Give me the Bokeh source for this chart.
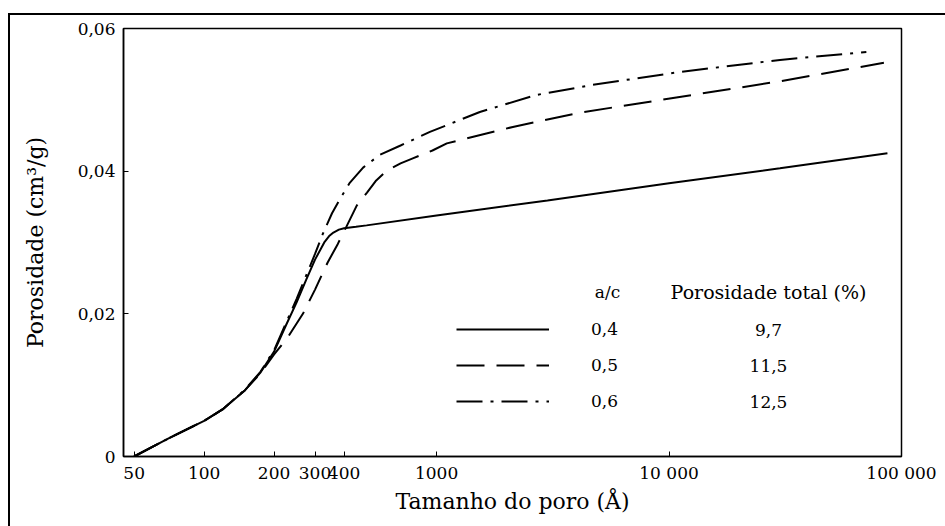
from bokeh.plotting import figure
from bokeh.models import (FixedTicker, Legend, LegendItem, Label, Range1d)
from bokeh.embed import file_html
from bokeh.resources import INLINE

# ---- data ----
pore_04 = [50, 70, 100, 120, 150, 175, 200, 225, 250, 275, 300, 330, 345, 360, 380, 400,
           450, 500, 1000, 3000, 10000, 30000, 87000]
por_04 = [0.0, 0.0025, 0.005, 0.0066, 0.0093, 0.0118, 0.0147, 0.0184, 0.0216, 0.0248,
          0.0276, 0.0301, 0.0309, 0.0314, 0.0318, 0.0320, 0.0322, 0.0324, 0.0338,
          0.0359, 0.0383, 0.0404, 0.0425]

pore_05 = [50, 70, 100, 120, 150, 175, 200, 230, 266, 300, 340, 376, 412, 454, 502, 550,
           612, 700, 790, 960, 1107, 2128, 4130, 11100, 30000, 84000]
por_05 = [0.0, 0.0025, 0.005, 0.0066, 0.0093, 0.0117, 0.0143, 0.0168, 0.020, 0.0234,
          0.0272, 0.0298, 0.0324, 0.0352, 0.0370, 0.0387, 0.0401, 0.0411, 0.0418,
          0.0429, 0.0439, 0.0462, 0.0482, 0.0504, 0.0526, 0.0552]

pore_06 = [50, 70, 100, 120, 150, 175, 200, 225, 250, 275, 300, 325, 355, 384, 424, 483,
           570, 700, 936, 1535, 2700, 4700, 11100, 30000, 70600]
por_06 = [0.0, 0.0025, 0.005, 0.0066, 0.0094, 0.0119, 0.0149, 0.0187, 0.0221, 0.0254,
          0.0284, 0.0313, 0.0341, 0.0361, 0.0384, 0.0405, 0.0423, 0.0436, 0.0455,
          0.0483, 0.0507, 0.0521, 0.0539, 0.0556, 0.0567]

ac_labels = ["0,4", "0,5", "0,6"]
total_porosity = ["9,7", "11,5", "12,5"]

x_ticks = [50, 100, 200, 300, 400, 1000, 10000, 100000]
x_tick_labels = ["50", "100", "200", "300", "400", "1000", "10 000", "100 000"]
y_ticks = [0.0, 0.02, 0.04, 0.06]
y_tick_labels = ["0", "0,02", "0,04", "0,06"]

SERIF = "DejaVu Serif"
FRAME_LEFT, FRAME_BOTTOM = 123, 456   # page pixels of the frame's bottom-left corner

p = figure(width=945, height=526, x_axis_type="log",
           x_range=Range1d(45, 100000), y_range=Range1d(0, 0.06),
           output_backend="svg", toolbar_location=None,
           min_border_left=FRAME_LEFT, min_border_right=44,
           min_border_top=28, min_border_bottom=526 - FRAME_BOTTOM)
p.grid.visible = False
p.outline_line_color = "black"
p.outline_line_width = 1.5
p.background_fill_color = "white"
p.border_fill_color = "white"
# outer frame of the figure (top and left edges visible)
p.stylesheets = [":host::after { content: ''; position: absolute; left: 8px; top: 13px; "
                 "right: -10px; bottom: -10px; border-top: 2.5px solid black; "
                 "border-left: 2.5px solid black; pointer-events: none; z-index: 10; }"]

r04 = p.line(pore_04, por_04, line_color="black", line_width=2)
r05 = p.line(pore_05, por_05, line_color="black", line_width=2, line_dash="28 12")
r06 = p.line(pore_06, por_06, line_color="black", line_width=2, line_dash="26 8 3 8")

for ax in (p.xaxis[0], p.yaxis[0]):
    ax.axis_line_color = "black"
    ax.axis_line_width = 1.5
    ax.major_tick_in = 5
    ax.major_tick_out = 0
    ax.minor_tick_in = 0
    ax.minor_tick_out = 0
    ax.major_tick_line_color = "black"
    ax.major_label_text_font = SERIF
    ax.major_label_text_font_size = "17px"
    ax.major_label_text_color = "black"
    ax.axis_label_text_font = SERIF
    ax.axis_label_text_font_size = "22px"
    ax.axis_label_text_font_style = "normal"
    ax.axis_label_text_color = "black"

p.xaxis[0].ticker = FixedTicker(ticks=x_ticks)
p.xaxis[0].major_label_overrides = {t: l for t, l in zip(x_ticks, x_tick_labels)}
p.xaxis[0].major_label_standoff = 6
p.xaxis[0].axis_label = "Tamanho do poro (Å)"
p.xaxis[0].axis_label_standoff = 3

p.yaxis[0].ticker = FixedTicker(ticks=y_ticks)
p.yaxis[0].major_label_overrides = {t: l for t, l in zip(y_ticks, y_tick_labels)}
p.yaxis[0].major_label_standoff = 8
p.yaxis[0].axis_label = "Porosidade (cm³/g)"
p.yaxis[0].axis_label_standoff = 27

# legend (line samples + a/c column)
legend = Legend(items=[LegendItem(label=ac_labels[0], renderers=[r04]),
                       LegendItem(label=ac_labels[1], renderers=[r05]),
                       LegendItem(label=ac_labels[2], renderers=[r06])],
                location=(333, 45), orientation="vertical",
                glyph_width=93, glyph_height=20, label_height=20,
                label_standoff=42, spacing=16, padding=0, margin=0,
                border_line_color=None, background_fill_alpha=0,
                label_text_font=SERIF, label_text_font_size="17px",
                label_text_color="black")
p.add_layout(legend)


def add_text(txt, page_x, page_y, size="17px"):
    p.add_layout(Label(x=page_x - FRAME_LEFT, y=FRAME_BOTTOM - page_y,
                       x_units="screen", y_units="screen", text=txt,
                       text_align="center", text_baseline="middle",
                       text_font=SERIF, text_font_size=size, text_color="black"))


add_text("a/c", 607, 291)
add_text("Porosidade total (%)", 768, 291, size="19px")
for i, t in enumerate(total_porosity):
    add_text(t, 768, 329 + 36 * i)

open("out.html", "w").write(file_html(p, INLINE))
